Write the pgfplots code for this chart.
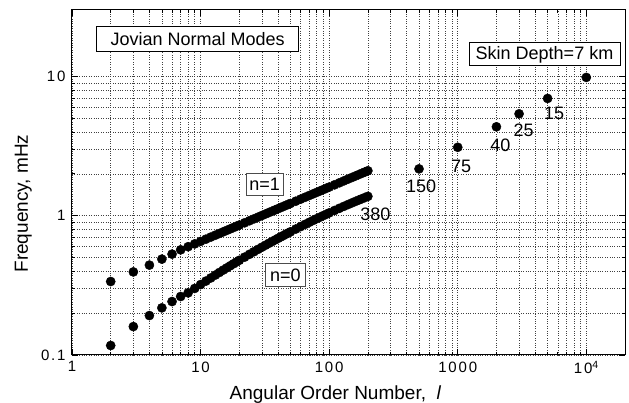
\documentclass[border=0pt]{standalone}
\usepackage{fontspec}
\setmainfont{Liberation Sans}
\usepackage{pgfplots}
\pgfplotsset{compat=1.18}
\begin{document}
\begin{tikzpicture}
\begin{loglogaxis}[
  name=ax,
  scale only axis,
  width=553pt, height=345pt,
  xmin=1, xmax=20000, ymin=0.1, ymax=30,
  xtick={1,10,100,1000,10000},
  xticklabels={1,10,100,1000,10\textsuperscript{4}},
  ytick={0.1,1,10},
  yticklabels={0.1,1,10},
  /pgf/number format/assume math mode=true,
  tick label style={font=\fontsize{15}{18}\selectfont\addfontfeatures{LetterSpace=12}},
  xticklabel style={yshift=-3pt},
  yticklabel style={xshift=-3pt},
  label style={font=\fontsize{19}{22}\selectfont},
  xlabel={Angular Order Number,\ \ \textit{l}},
  ylabel={Frequency, mHz},
  xlabel style={at={(axis description cs:0.4765,-0.1304)}, anchor=base},
  ylabel style={at={(axis description cs:-0.0796,0.439)}, anchor=base},
  tick align=inside,
  ticks=both,
  major tick length=6pt, minor tick length=3pt,
  xtick pos=both, ytick pos=both,
  grid=both,
  major grid style={dotted, black!75, line width=0.5pt},
  minor grid style={dotted, black!75, line width=0.5pt},
  axis line style={line width=1pt},
  every tick/.style={black, line width=0.6pt},
]
\addplot[only marks, mark=*, mark size=4.6pt, black] table {
x y
2 0.117
3 0.160
4 0.192
5 0.218
6 0.242
7 0.263
8 0.2793
9 0.3005
10 0.3204
11 0.3393
12 0.3574
13 0.3747
14 0.3912
15 0.4071
16 0.4223
17 0.4370
18 0.4512
19 0.4650
20 0.4784
22 0.5041
24 0.5284
26 0.5515
28 0.5735
30 0.5944
32 0.6145
34 0.6339
36 0.6524
38 0.6703
40 0.6876
42 0.7043
44 0.7205
46 0.7363
48 0.7515
50 0.7664
55 0.8023
60 0.8355
65 0.8669
70 0.8965
75 0.9247
80 0.9515
85 0.9770
90 1.0016
95 1.0250
100 1.0476
110 1.0902
120 1.1300
130 1.1670
140 1.2023
150 1.2352
160 1.2665
170 1.2961
180 1.3244
190 1.3514
200 1.3772
};
\addplot[only marks, mark=*, mark size=4.6pt, black] table {
x y
2 0.337
3 0.395
4 0.442
5 0.488
6 0.530
7 0.569
8 0.5993
9 0.6276
10 0.6540
11 0.6787
12 0.7022
13 0.7244
14 0.7456
15 0.7660
16 0.7855
17 0.8042
18 0.8223
19 0.8398
20 0.8567
22 0.8893
24 0.9200
26 0.9492
28 0.9770
30 1.0036
32 1.0292
34 1.0538
36 1.0776
38 1.1005
40 1.1227
42 1.1443
44 1.1653
46 1.1857
48 1.2055
50 1.2249
55 1.2712
60 1.3151
65 1.3568
70 1.3966
75 1.4347
80 1.4712
85 1.5064
90 1.5403
95 1.5731
100 1.6049
110 1.6656
120 1.7231
130 1.7780
140 1.8301
150 1.8801
160 1.9280
170 1.9741
180 2.0186
190 2.0616
200 2.1032
};
\addplot[only marks, mark=*, mark size=4.6pt, black] table {
x y
500 2.17
1000 3.10
2000 4.35
3000 5.39
5000 6.95
10000 9.84
};
\begin{scope}[every node/.style={font=\fontsize{18}{21}\selectfont}]
\node at (axis cs:519,1.625) {150};
\node at (axis cs:1061,2.26) {75};
\node at (axis cs:2143,3.19) {40};
\node at (axis cs:3250,4.09) {25};
\node at (axis cs:5620,5.39) {15};
\node at (axis cs:229,1.03) {380};
\node[draw=black, line width=0.8pt, fill=white, minimum width=202pt, minimum height=25pt, inner sep=2pt] at (axis cs:9.5,18.5) {Jovian Normal Modes};
\node[draw=black, line width=0.8pt, fill=white, minimum width=151pt, minimum height=23pt, inner sep=2pt] at (axis cs:4730,14.4) {Skin Depth=7 km};
\node[draw=black!70, line width=0.7pt, fill=white, minimum width=37pt, minimum height=22pt, inner sep=2pt] at (axis cs:31.5,1.67) {n=1};
\node[draw=black!70, line width=0.7pt, fill=white, minimum width=40pt, minimum height=23pt, inner sep=2pt] at (axis cs:45.7,0.376) {n=0};
\end{scope}
\end{loglogaxis}
\pgfresetboundingbox
\path[use as bounding box] ([xshift=-72pt,yshift=-48pt]ax.south west) rectangle ([xshift=4pt,yshift=10pt]ax.north east);
\end{tikzpicture}
\end{document}
